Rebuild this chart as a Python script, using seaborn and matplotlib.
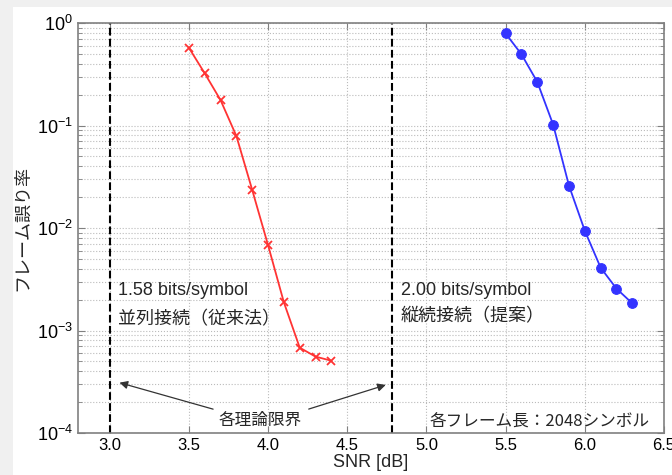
import numpy as np
import pandas as pd
import matplotlib
matplotlib.use("Agg")
import matplotlib.pyplot as plt
import seaborn as sns
from matplotlib.patches import Rectangle
from matplotlib.ticker import LogLocator, FixedLocator

# data
snr_parallel = [3.5, 3.6, 3.7, 3.8, 3.9, 4.0, 4.1, 4.2, 4.3, 4.4]
fer_parallel = [0.574, 0.323, 0.177, 0.079, 0.0235, 0.0068, 0.00188, 0.00068, 0.000556, 0.000507]
snr_serial = [5.5, 5.6, 5.7, 5.8, 5.9, 6.0, 6.1, 6.2, 6.3]
fer_serial = [0.79, 0.495, 0.266, 0.102, 0.0259, 0.0094, 0.0041, 0.00256, 0.00184]
limit_parallel = 3.0
limit_serial = 4.78
x_ticks = [3.0, 3.5, 4.0, 4.5, 5.0, 5.5, 6.0, 6.5]

sns.set_style("ticks")
plt.rcParams['font.family'] = ['Liberation Sans', 'Noto Sans CJK JP', 'DejaVu Sans']
plt.rcParams['mathtext.fontset'] = 'custom'
plt.rcParams['mathtext.rm'] = 'Liberation Sans'
plt.rcParams['mathtext.it'] = 'Liberation Sans'
plt.rcParams['mathtext.bf'] = 'Liberation Sans:bold'
jp = ['Noto Sans CJK JP', 'DejaVu Sans']

fig = plt.figure(figsize=(6.72, 4.75), dpi=100, facecolor='#f0f0f0')
bg = Rectangle((13 / 672, 0), 1, 1 - 7 / 475, transform=fig.transFigure,
               facecolor='white', edgecolor='none', zorder=-10)
fig.add_artist(bg)
ax = fig.add_axes([78 / 672, 1 - 433 / 475, (664 - 78) / 672, (433 - 23) / 475])

df_p = pd.DataFrame({'snr': snr_parallel, 'fer': fer_parallel})
df_s = pd.DataFrame({'snr': snr_serial, 'fer': fer_serial})
sns.lineplot(data=df_p, x='snr', y='fer', ax=ax, color='#ff3333', marker='x',
             markersize=6, markeredgewidth=1.3, markeredgecolor='#ff3333',
             linewidth=1.3, zorder=3)
sns.lineplot(data=df_s, x='snr', y='fer', ax=ax, color='#3333ff', marker='o',
             markersize=7, markeredgecolor='#3333ff', linewidth=1.3, zorder=3)

ax.set_yscale('log')
ax.set_xlim(2.8, 6.5)
ax.set_ylim(1e-4, 1)
ax.xaxis.set_major_locator(FixedLocator(x_ticks))
ax.set_xticklabels([f"{t:.1f}" for t in x_ticks])
ax.yaxis.set_major_locator(LogLocator(base=10, numticks=10))
ax.yaxis.set_minor_locator(LogLocator(base=10, subs=np.arange(2, 10), numticks=20))

ax.grid(which='major', axis='x', color='#bbbbbb', linestyle=':', linewidth=0.8)
ax.grid(which='both', axis='y', color='#bbbbbb', linestyle=':', linewidth=0.8)
ax.tick_params(which='both', direction='in', top=True, right=True, colors='#808080',
               labelcolor='black')
ax.tick_params(axis='x', labelsize=12)
ax.tick_params(axis='y', labelsize=13)
ax.tick_params(which='major', length=5)
ax.tick_params(which='minor', length=3)
for s in ax.spines.values():
    s.set_color('#808080')
    s.set_linewidth(1.2)

ax.axvline(limit_parallel, color='black', linestyle='--', linewidth=1.5, zorder=2)
ax.axvline(limit_serial, color='black', linestyle='--', linewidth=1.5, zorder=2)

ax.set_xlabel('SNR [dB]', fontsize=13, labelpad=1)
ax.set_ylabel('フレーム誤り率', fontsize=13, family=jp, labelpad=4)

ax.text(3.05, 2.48e-3, '1.58 bits/symbol', fontsize=13, va='center')
ax.text(3.05, 1.3e-3, '並列接続（従来法）', fontsize=13, family=jp, va='center')
ax.text(4.84, 2.48e-3, '2.00 bits/symbol', fontsize=13, va='center')
ax.text(4.84, 1.38e-3, '縦続接続（提案）', fontsize=13, family=jp, va='center')
ax.text(3.95, 1.34e-4, '各理論限界', fontsize=12, family=jp, ha='center', va='center')
ax.text(6.41, 1.28e-4, '各フレーム長：2048シンボル', fontsize=12, family=jp, ha='right', va='center')

ax.annotate('', xy=(3.045, 3.15e-4), xytext=(3.67, 1.68e-4),
            arrowprops=dict(arrowstyle='-|>', color='#333333', lw=0.9, mutation_scale=12))
ax.annotate('', xy=(4.76, 3.0e-4), xytext=(4.24, 1.68e-4),
            arrowprops=dict(arrowstyle='-|>', color='#333333', lw=0.9, mutation_scale=12))

fig.savefig('out.png', dpi=100, facecolor=fig.get_facecolor())
